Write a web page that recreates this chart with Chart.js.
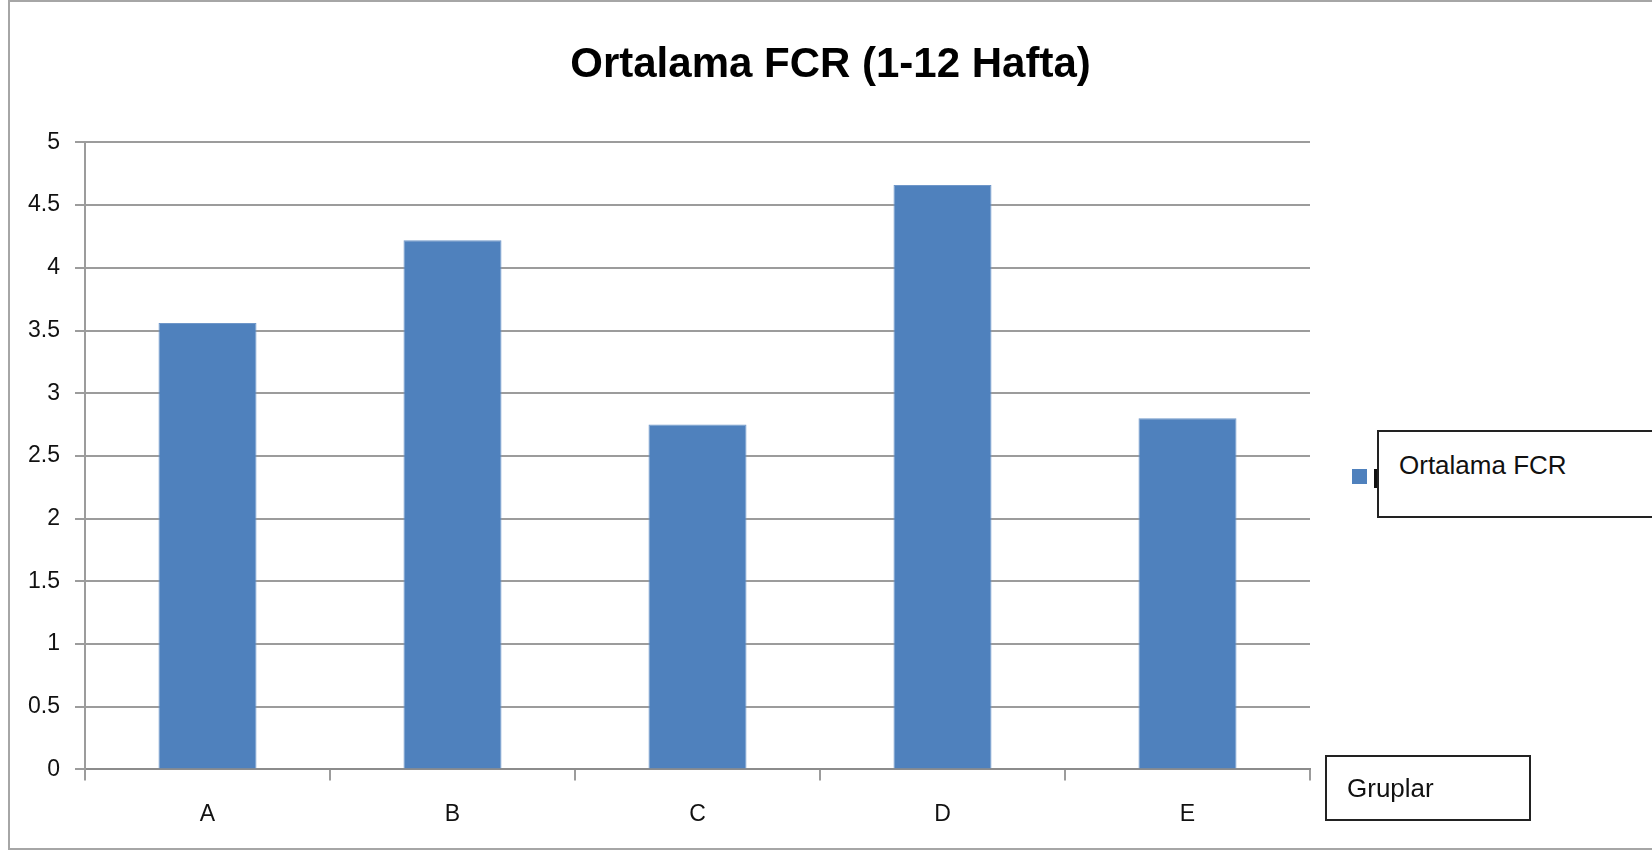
<!DOCTYPE html>
<html>
<head>
<meta charset="utf-8">
<script src="https://cdn.jsdelivr.net/npm/chart.js@4.4.1/dist/chart.umd.min.js"></script>
<style>
  html, body { margin:0; padding:0; background:#fff; }
  #wrap { position:relative; width:1652px; height:853px; overflow:hidden; font-family:"Liberation Sans", Arial, sans-serif; }
  #frame { position:absolute; left:8px; top:0; width:1700px; height:850px; border:2px solid #a6a6a6; border-right:none; box-sizing:border-box; pointer-events:none; }
  .tbox { position:absolute; background:#fff; border:2px solid #222; box-sizing:border-box; color:#111; }
  #legSwatch { position:absolute; left:1352px; top:469px; width:15px; height:15px; }
  #legMark { position:absolute; left:1374px; top:469px; width:3px; height:19px; background:#111; }
</style>
</head>
<body>
<div id="wrap">
  <canvas id="c" width="1652" height="853"></canvas>
  <div id="frame"></div>
  <div id="legSwatch"></div>
  <div id="legMark"></div>
  <div class="tbox" id="legBox" style="left:1377px;top:430px;width:300px;height:88px;">
    <span id="legText" style="position:absolute;left:20px;top:18px;font-size:26px;"></span>
  </div>
  <div class="tbox" style="left:1325px;top:755px;width:206px;height:66px;">
    <span id="axTitle" style="position:absolute;left:20px;top:16px;font-size:26px;"></span>
  </div>
</div>
<script>
// Ortalama FCR — gruplara göre (1-12 hafta)
const gruplar   = ['A', 'B', 'C', 'D', 'E'];
const fcrDeger  = [3.56, 4.22, 2.75, 4.66, 2.80];
const seriAdi   = 'Ortalama FCR';
const baslik    = 'Ortalama FCR (1-12 Hafta)';
const xBaslik   = 'Gruplar';
const yTicks    = [0, 0.5, 1, 1.5, 2, 2.5, 3, 3.5, 4, 4.5, 5];

const BAR_RENK  = '#4f81bd';
const GRID_RENK = '#9c9c9c';
const FONT      = '"Liberation Sans", Arial, sans-serif';

document.getElementById('legSwatch').style.background = BAR_RENK;
document.getElementById('legText').textContent = seriAdi;
document.getElementById('axTitle').textContent = xBaslik;

new Chart(document.getElementById('c'), {
  type: 'bar',
  data: {
    labels: gruplar,
    datasets: [{
      label: seriAdi,
      data: fcrDeger,
      backgroundColor: BAR_RENK,
      borderColor: '#6f97c9',
      borderWidth: 1,
      barPercentage: 0.4,
      categoryPercentage: 1.0,
    }]
  },
  options: {
    responsive: false,
    animation: false,
    layout: { padding: { left: 9, right: 0, top: 0, bottom: 5 } },
    plugins: {
      legend: { display: false },
      tooltip: { enabled: false },
      title: {
        display: true,
        text: baslik,
        color: '#000',
        font: { family: FONT, size: 42, weight: 'bold' },
        padding: { top: 40, bottom: 52 },
      },
    },
    scales: {
      x: {
        grid: { display: true, drawOnChartArea: false, drawTicks: true, tickLength: 11, color: GRID_RENK, lineWidth: 2 },
        border: { display: true, color: '#8c8c8c', width: 2 },
        ticks: { color: '#111', padding: 20, font: { family: FONT, size: 23 } },
      },
      y: {
        min: 0, max: 5,
        afterBuildTicks: s => { s.ticks = yTicks.map(v => ({ value: v })); },
        afterFit: s => { s.width = 76; },
        grid: { color: GRID_RENK, lineWidth: 2, tickLength: 10 },
        border: { display: true, color: GRID_RENK, width: 2 },
        ticks: { color: '#111', padding: 15, font: { family: FONT, size: 23 }, callback: v => String(v) },
      },
      // boş sağ eksen: lejant ve kutular için yer ayırır, başlık tüm genişliğe ortalanır
      sag: {
        position: 'right',
        afterFit: s => { s.width = 342; },
        grid: { display: false },
        border: { display: false },
        ticks: { display: false },
      }
    }
  }
});
</script>
</body>
</html>
